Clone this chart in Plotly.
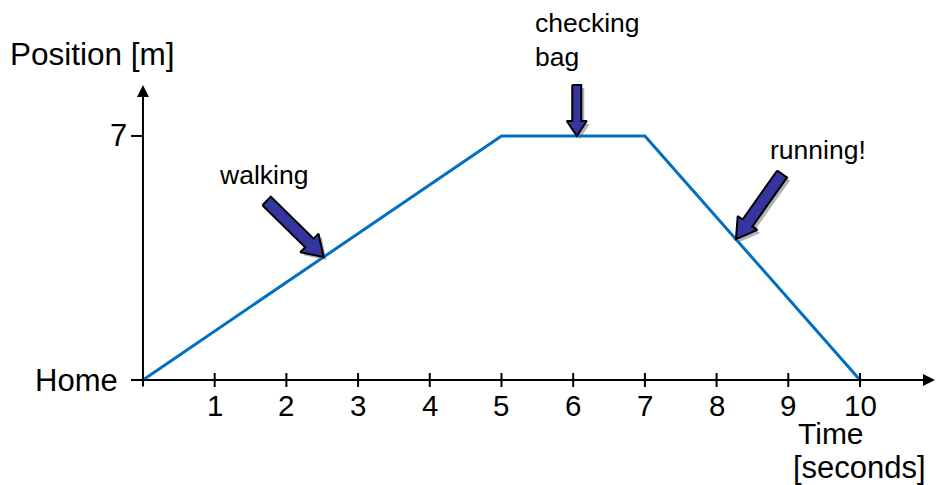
import numpy as np
import plotly.graph_objects as go

# ---- data ----
time_s = [0, 5, 7, 10]
position_m = [0, 7, 7, 0]
x_ticks = [1, 2, 3, 4, 5, 6, 7, 8, 9, 10]
x_tick_labels = ["1", "2", "3", "4", "5", "6", "7", "8", "9", "10"]
y_ticks = [0, 7]
y_tick_labels = ["Home", "7"]
note_texts = ["walking", "checking<br>bag", "running!"]
note_times = [2.52, 6.05, 8.27]

W, H = 936, 485
# axis ranges chosen so that the plot area spans the whole page
X0, X1 = -1.994, 11.06
Y0, Y1 = -3.012, 10.90
PX = W / (X1 - X0)   # pixels per second
PY = H / (Y1 - Y0)   # pixels per metre

def to_px(x, y):
    return (x - X0) * PX, (Y1 - y) * PY

def to_data(px, py):
    return X0 + px / PX, Y1 - py / PY

fig = go.Figure()

# block arrows pointing at the line
def block_arrow(tip_x, tip_y, dx, dy, L, head_len, head_hw, shaft_hw):
    tx, ty = to_px(tip_x, tip_y)
    n = np.hypot(dx, dy)
    ux, uy = dx / n, dy / n
    pxv, pyv = -uy, ux
    pts = [
        (tx - L * ux + shaft_hw * pxv, ty - L * uy + shaft_hw * pyv),
        (tx - head_len * ux + shaft_hw * pxv, ty - head_len * uy + shaft_hw * pyv),
        (tx - head_len * ux + head_hw * pxv, ty - head_len * uy + head_hw * pyv),
        (tx, ty),
        (tx - head_len * ux - head_hw * pxv, ty - head_len * uy - head_hw * pyv),
        (tx - head_len * ux - shaft_hw * pxv, ty - head_len * uy - shaft_hw * pyv),
        (tx - L * ux - shaft_hw * pxv, ty - L * uy - shaft_hw * pyv),
    ]
    pts.append(pts[0])
    return pts

arrow_specs = [
    (57, 56, 80, 20, 13, 6),
    (0, 1, 51, 15, 10, 4.5),
    (-46, 65, 80, 20, 12, 6),
]

note_pos = np.interp(note_times, time_s, position_m)

for t, p, spec in zip(note_times, note_pos, arrow_specs):
    pts = block_arrow(t, p, *spec)
    # shadow
    sx, sy = zip(*[to_data(a + 3, b + 3) for a, b in pts])
    fig.add_trace(go.Scatter(x=sx, y=sy, mode="lines", fill="toself",
                             fillcolor="rgba(0,0,0,0.30)",
                             line=dict(color="rgba(0,0,0,0)", width=0),
                             hoverinfo="skip", showlegend=False))

# position line
fig.add_trace(go.Scatter(x=time_s, y=position_m, mode="lines",
                         line=dict(color="#0070C0", width=3),
                         showlegend=False))

for t, p, spec in zip(note_times, note_pos, arrow_specs):
    pts = block_arrow(t, p, *spec)
    ax_, ay_ = zip(*[to_data(a, b) for a, b in pts])
    fig.add_trace(go.Scatter(x=ax_, y=ay_, mode="lines", fill="toself",
                             fillcolor="#3535A0",
                             line=dict(color="black", width=2),
                             hoverinfo="skip", showlegend=False))

# axes lines
gx, _ = to_data(132, 0)
_, gy = to_data(0, 388)
_, ytop = to_data(0, 85)
xright, _ = to_data(935, 0)

annots = []
# y axis with arrow
annots.append(dict(x=0, y=ytop, ax=0, ay=gy, xref="x", yref="y", axref="x", ayref="y",
                   showarrow=True, arrowhead=2, arrowsize=1.2, arrowwidth=2,
                   arrowcolor="black", text="", standoff=0))
# x axis with arrow
annots.append(dict(x=xright, y=0, ax=gx, ay=0, xref="x", yref="y", axref="x", ayref="y",
                   showarrow=True, arrowhead=2, arrowsize=1.2, arrowwidth=2,
                   arrowcolor="black", text="", standoff=0))

shapes = []
tick_half = 7 / PY
for xt in x_ticks:
    shapes.append(dict(type="line", xref="x", yref="y", x0=xt, x1=xt,
                       y0=-tick_half, y1=tick_half,
                       line=dict(color="black", width=2)))
ytick_len = 12 / PX
for yt in y_ticks:
    shapes.append(dict(type="line", xref="x", yref="y", x0=-ytick_len, x1=0,
                       y0=yt, y1=yt, line=dict(color="black", width=2)))

FONT = "Arial, Liberation Sans, sans-serif"

_, ylab = to_data(0, 405)
for xt, lab in zip(x_ticks, x_tick_labels):
    annots.append(dict(x=xt, y=ylab, xref="x", yref="y", text=lab, showarrow=False,
                       xanchor="center", yanchor="middle",
                       font=dict(family=FONT, size=29.5, color="black")))

for yt, lab in zip(y_ticks, y_tick_labels):
    xr, _ = to_data(129 if lab == "7" else 120, 0)
    annots.append(dict(x=xr, y=yt, xref="x", yref="y", text=lab, showarrow=False,
                       xanchor="right", yanchor="middle",
                       font=dict(family=FONT, size=31, color="black")))

def paper(px, py):
    return px / W, 1 - py / H

def add_text(text, px, py, size, xanchor="left"):
    x, y = paper(px, py)
    annots.append(dict(x=x, y=y, xref="paper", yref="paper", text=text, showarrow=False,
                       xanchor=xanchor, yanchor="middle", align="left",
                       font=dict(family=FONT, size=size, color="black")))

add_text("Position [m]", 8, 54, 31.5)
add_text("Time", 796, 433, 30)
add_text("[seconds]", 791, 467, 31)
add_text(note_texts[0], 217, 175, 26.5)
add_text(note_texts[1], 533, 40, 26.5)
add_text(note_texts[2], 768, 150, 26.5)

fig.update_layout(
    width=W, height=H,
    margin=dict(l=0, r=0, t=0, b=0),
    paper_bgcolor="white", plot_bgcolor="white",
    xaxis=dict(range=[X0, X1], visible=False, fixedrange=True),
    yaxis=dict(range=[Y0, Y1], visible=False, fixedrange=True),
    annotations=annots, shapes=shapes,
    showlegend=False,
)

fig.write_html("out.html", config={"displayModeBar": False},
               post_script="document.body.style.margin='0';")
